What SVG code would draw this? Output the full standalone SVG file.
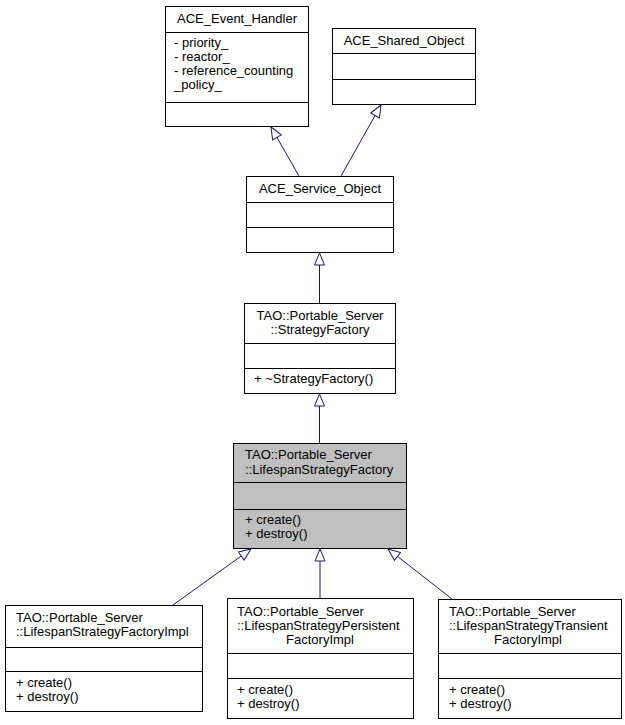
<svg xmlns="http://www.w3.org/2000/svg" width="625" height="725" viewBox="0 0 625 725">
<style>
text{font-family:"Liberation Sans",Arial,sans-serif;font-size:13px;fill:#000}
.c{text-anchor:middle}
.box{fill:#fff;stroke:#000;stroke-width:1}
.hl{fill:#bfbfbf;stroke:#000;stroke-width:1}
.sep{stroke:#000;stroke-width:1}
.edge{stroke:#191970;stroke-width:1;fill:none;marker-end:url(#inh)}
</style>
<defs>
<marker id="inh" markerUnits="userSpaceOnUse" markerWidth="14" markerHeight="12" refX="12" refY="5" orient="auto" viewBox="-1 -1 14 12">
<path d="M0,0 L12,5 L0,10 z" fill="#fff" stroke="#191970" stroke-width="1"/>
</marker>
</defs>
<g id="edges">
<line class="edge" x1="299" y1="176" x2="271" y2="127"/>
<line class="edge" x1="341" y1="176" x2="381" y2="105"/>
<line class="edge" x1="319.5" y1="303" x2="319.5" y2="253"/>
<line class="edge" x1="319.5" y1="443" x2="319.5" y2="394"/>
<line class="edge" x1="173" y1="605" x2="251" y2="549"/>
<line class="edge" x1="320" y1="598" x2="320" y2="549"/>
<line class="edge" x1="452" y1="599" x2="388" y2="549"/>
</g>
<g id="ACE_Event_Handler">
<rect class="box" x="165.5" y="6.5" width="143" height="120"/>
<line class="sep" x1="165.5" y1="32.5" x2="308.5" y2="32.5"/>
<line class="sep" x1="165.5" y1="102.5" x2="308.5" y2="102.5"/>
<text class="c" x="237" y="23">ACE_Event_Handler</text>
<text x="174" y="47">- priority_</text>
<text x="174" y="61">- reactor_</text>
<text x="174" y="75">- reference_counting</text>
<text x="174" y="89">_policy_</text>
</g>
<g id="ACE_Shared_Object">
<rect class="box" x="332.5" y="28.5" width="143" height="76"/>
<line class="sep" x1="332.5" y1="53.5" x2="475.5" y2="53.5"/>
<line class="sep" x1="332.5" y1="79.5" x2="475.5" y2="79.5"/>
<text class="c" x="404" y="45">ACE_Shared_Object</text>
</g>
<g id="ACE_Service_Object">
<rect class="box" x="246.5" y="176.5" width="147" height="76"/>
<line class="sep" x1="246.5" y1="202.5" x2="393.5" y2="202.5"/>
<line class="sep" x1="246.5" y1="227.5" x2="393.5" y2="227.5"/>
<text class="c" x="320" y="193">ACE_Service_Object</text>
</g>
<g id="StrategyFactory">
<rect class="box" x="244.5" y="303.5" width="151" height="90"/>
<line class="sep" x1="244.5" y1="343.5" x2="395.5" y2="343.5"/>
<line class="sep" x1="244.5" y1="368.5" x2="395.5" y2="368.5"/>
<text class="c" x="320" y="320">TAO::Portable_Server</text>
<text class="c" x="320" y="334">::StrategyFactory</text>
<text x="254" y="383">+ ~StrategyFactory()</text>
</g>
<g id="LifespanStrategyFactory">
<rect class="hl" x="233.5" y="443.5" width="173" height="105"/>
<line class="sep" x1="233.5" y1="482.5" x2="406.5" y2="482.5"/>
<line class="sep" x1="233.5" y1="509.5" x2="406.5" y2="509.5"/>
<text x="245" y="459">TAO::Portable_Server</text>
<text x="245" y="474">::LifespanStrategyFactory</text>
<text x="245" y="524">+ create()</text>
<text x="245" y="538">+ destroy()</text>
</g>
<g id="LifespanStrategyFactoryImpl">
<rect class="box" x="5.5" y="605.5" width="197" height="106"/>
<line class="sep" x1="5.5" y1="647.5" x2="202.5" y2="647.5"/>
<line class="sep" x1="5.5" y1="671.5" x2="202.5" y2="671.5"/>
<text x="16" y="622">TAO::Portable_Server</text>
<text x="16" y="636">::LifespanStrategyFactoryImpl</text>
<text x="16" y="687">+ create()</text>
<text x="16" y="701">+ destroy()</text>
</g>
<g id="LifespanStrategyPersistentFactoryImpl">
<rect class="box" x="227.5" y="598.5" width="186" height="120"/>
<line class="sep" x1="227.5" y1="653.5" x2="413.5" y2="653.5"/>
<line class="sep" x1="227.5" y1="678.5" x2="413.5" y2="678.5"/>
<text x="237" y="616">TAO::Portable_Server</text>
<text x="237" y="630">::LifespanStrategyPersistent</text>
<text class="c" x="320" y="644">FactoryImpl</text>
<text x="237" y="694">+ create()</text>
<text x="237" y="708">+ destroy()</text>
</g>
<g id="LifespanStrategyTransientFactoryImpl">
<rect class="box" x="438.5" y="599.5" width="183" height="119"/>
<line class="sep" x1="438.5" y1="653.5" x2="621.5" y2="653.5"/>
<line class="sep" x1="438.5" y1="678.5" x2="621.5" y2="678.5"/>
<text x="449" y="616">TAO::Portable_Server</text>
<text x="449" y="630">::LifespanStrategyTransient</text>
<text class="c" x="528" y="644">FactoryImpl</text>
<text x="449" y="694">+ create()</text>
<text x="449" y="708">+ destroy()</text>
</g>
</svg>
